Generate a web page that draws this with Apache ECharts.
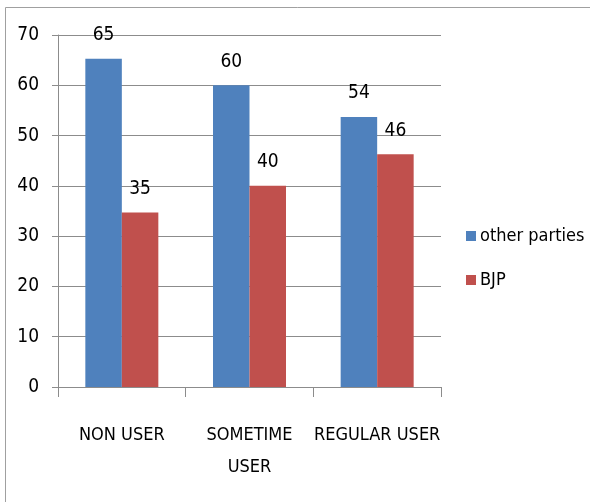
<!DOCTYPE html>
<html>
<head>
<meta charset="utf-8">
<script src="https://cdn.jsdelivr.net/npm/echarts@6/dist/echarts.min.js"></script>
<style>html,body{margin:0;padding:0;background:#fff}#c{width:590px;height:502px}</style>
</head>
<body>
<div id="c"></div>
<script>
const categories = ['NON USER', 'SOMETIME\nUSER', 'REGULAR USER'];
const otherParties = [65.3, 60, 53.7];
const bjp = [34.7, 40, 46.3];
const yTicks = { min: 0, max: 70, interval: 10 };
const seriesNames = ['other parties', 'BJP'];

const FONT = '"DejaVu Sans Condensed", "Liberation Sans Narrow", sans-serif';
const chart = echarts.init(document.getElementById('c'));
const labelStyle = {
  show: true, position: 'top', distance: 14,
  fontFamily: FONT, fontSize: 19, color: '#000',
  formatter: p => Math.round(p.value)
};
chart.setOption({
  animation: false,
  backgroundColor: '#fff',
  graphic: [
    { type: 'line', shape: { x1: 5.5, y1: 7.5, x2: 590, y2: 7.5 }, style: { stroke: '#a0a0a0', lineWidth: 1 } },
    { type: 'line', shape: { x1: 5.5, y1: 7.5, x2: 5.5, y2: 502 }, style: { stroke: '#a0a0a0', lineWidth: 1 } }
  ],
  grid: { left: 58, right: 149, top: 35, bottom: 115, containLabel: false },
  legend: {
    orient: 'vertical', left: 461, top: 222,
    itemWidth: 10, itemHeight: 10, itemGap: 26, icon: 'rect',
    textStyle: { fontFamily: FONT, fontSize: 18, color: '#000', padding: [0, 0, 0, -1] },
    data: seriesNames
  },
  xAxis: {
    type: 'category', data: categories,
    axisLine: { lineStyle: { color: '#8c8c8c', width: 1 } },
    axisTick: { show: true, length: 10, alignWithLabel: false, lineStyle: { color: '#8c8c8c' } },
    axisLabel: {
      fontFamily: FONT, fontSize: 18, color: '#000', margin: 32, lineHeight: 32,
      interval: 0
    }
  },
  yAxis: {
    type: 'value', min: yTicks.min, max: yTicks.max, interval: yTicks.interval,
    axisLine: { show: true, lineStyle: { color: '#8c8c8c', width: 1 } },
    axisTick: { show: true, length: 6, inside: false, lineStyle: { color: '#8c8c8c' } },
    axisLabel: { fontFamily: FONT, fontSize: 19, color: '#000', margin: 19 },
    splitLine: { show: true, lineStyle: { color: '#8c8c8c', width: 1 } }
  },
  series: [
    { name: seriesNames[0], type: 'bar', data: otherParties, barWidth: 36.5, barGap: '0%',
      itemStyle: { color: '#4F81BD' }, label: labelStyle },
    { name: seriesNames[1], type: 'bar', data: bjp, barWidth: 36.5, barGap: '0%',
      itemStyle: { color: '#C0504D' }, label: labelStyle }
  ]
});
</script>
</body>
</html>
